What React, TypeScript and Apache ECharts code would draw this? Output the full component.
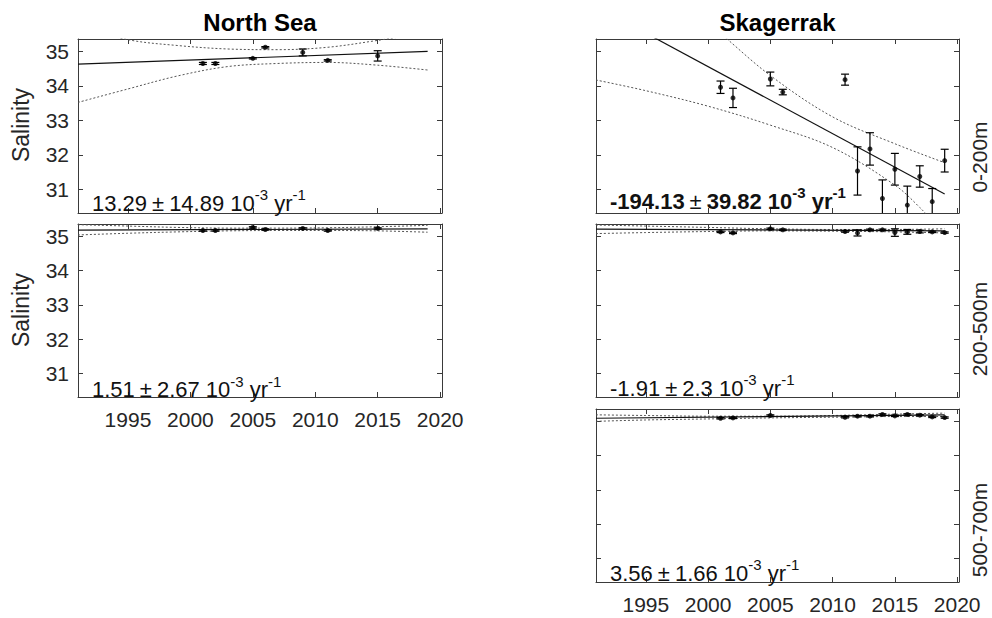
import React, { useEffect, useRef } from 'react';
import * as echarts from 'echarts';

// ---------- tick labels ----------
const xTicks = [1995, 2000, 2005, 2010, 2015, 2020];
const yTicks = [31, 32, 33, 34, 35];

// ---------- North Sea 0-200 m ----------
const ns0Years = [2001, 2002, 2005, 2006, 2009, 2011, 2015];
const ns0Sal = [34.65, 34.65, 34.8, 35.12, 34.97, 34.74, 34.87];
const ns0Err = [0.03, 0.03, 0.02, 0.02, 0.1, 0.02, 0.15];
const ns0FitYears = [1991, 2019];
const ns0Fit = [34.63, 35.0];
const ns0UpYears = [1991, 1995, 1999, 2003, 2007, 2011, 2015, 2019];
const ns0Up = [35.74, 35.34, 35.17, 35.07, 35.05, 35.12, 35.32, 35.55];
const ns0LoYears = [1991, 1995, 1999, 2003, 2007, 2011, 2015, 2019];
const ns0Lo = [33.52, 33.91, 34.29, 34.56, 34.65, 34.68, 34.6, 34.46];

// ---------- North Sea 200-500 m ----------
const ns1Years = [2001, 2002, 2005, 2006, 2009, 2011, 2015];
const ns1Sal = [35.17, 35.17, 35.26, 35.2, 35.23, 35.17, 35.23];
const ns1Err = [0.02, 0.02, 0.02, 0.02, 0.02, 0.02, 0.02];
const ns1FitYears = [1991, 2019];
const ns1Fit = [35.18, 35.22];
const ns1UpYears = [1991, 1995, 1999, 2003, 2007, 2011, 2015, 2019];
const ns1Up = [35.34, 35.3, 35.26, 35.24, 35.24, 35.25, 35.28, 35.32];
const ns1LoYears = [1991, 1995, 1999, 2003, 2007, 2011, 2015, 2019];
const ns1Lo = [35.04, 35.09, 35.13, 35.16, 35.17, 35.17, 35.16, 35.12];

// ---------- Skagerrak 0-200 m ----------
const sk0Years = [2001, 2002, 2005, 2006, 2011, 2012, 2013, 2014, 2015, 2016, 2017, 2018, 2019];
const sk0Sal = [33.96, 33.65, 34.2, 33.82, 34.18, 31.53, 32.17, 30.73, 31.58, 30.54, 31.37, 30.64, 31.83];
const sk0Err = [0.18, 0.28, 0.2, 0.08, 0.16, 0.7, 0.47, 0.54, 0.46, 0.55, 0.31, 0.38, 0.33];
const sk0FitYears = [1991, 2019];
const sk0Fit = [36.31, 30.86];
const sk0UpYears = [1999, 2001, 2005, 2010, 2015, 2019];
const sk0Up = [36.1, 35.52, 34.3, 33.1, 32.32, 31.77];
const sk0LoYears = [1991, 1995, 2000, 2005, 2010, 2015, 2017, 2019];
const sk0Lo = [34.17, 33.86, 33.41, 32.86, 32.21, 31.12, 30.47, 29.7];

// ---------- Skagerrak 200-500 m ----------
const sk1Years = [2001, 2002, 2005, 2006, 2011, 2012, 2013, 2014, 2015, 2016, 2017, 2018, 2019];
const sk1Sal = [35.13, 35.1, 35.22, 35.19, 35.14, 35.1, 35.19, 35.19, 35.11, 35.13, 35.14, 35.13, 35.11];
const sk1Err = [0.02, 0.02, 0.02, 0.02, 0.02, 0.09, 0.02, 0.02, 0.11, 0.07, 0.04, 0.02, 0.02];
const sk1FitYears = [1991, 2019];
const sk1Fit = [35.21, 35.16];
const sk1UpYears = [1991, 1995, 2000, 2005, 2010, 2015, 2019];
const sk1Up = [35.33, 35.3, 35.26, 35.22, 35.2, 35.2, 35.22];
const sk1LoYears = [1991, 1995, 2000, 2005, 2010, 2015, 2019];
const sk1Lo = [35.08, 35.11, 35.14, 35.16, 35.15, 35.13, 35.1];

// ---------- Skagerrak 500-700 m ----------
const sk2Years = [2001, 2002, 2005, 2011, 2012, 2013, 2014, 2015, 2016, 2017, 2018, 2019];
const sk2Sal = [35.09, 35.1, 35.17, 35.12, 35.15, 35.15, 35.2, 35.16, 35.2, 35.18, 35.13, 35.11];
const sk2Err = [0.02, 0.02, 0.02, 0.02, 0.02, 0.02, 0.02, 0.02, 0.02, 0.02, 0.02, 0.02];
const sk2FitYears = [1991, 2019];
const sk2Fit = [35.09, 35.19];
const sk2UpYears = [1991, 1995, 2000, 2005, 2010, 2015, 2019];
const sk2Up = [35.19, 35.17, 35.15, 35.15, 35.17, 35.21, 35.24];
const sk2LoYears = [1991, 1995, 2000, 2005, 2010, 2015, 2019];
const sk2Lo = [35.0, 35.04, 35.07, 35.1, 35.12, 35.14, 35.14];

// ---------- texts ----------
const titles = ['North Sea', 'Skagerrak'];
const yLabel = 'Salinity';
const depthLabels = ['0-200m', '200-500m', '500-700m'];
const trendValues = ['13.29', '1.51', '-194.13', '-1.91', '3.56'];
const trendErrors = ['14.89', '2.67', '39.82', '2.3', '1.66'];
const trendBold = [false, false, true, false, false];

// ---------- layout ----------
const FONT = '"Liberation Sans", Arial, Helvetica, sans-serif';
const AXIS_COLOR = '#3a3a3a';
const TEXT_COLOR = '#262626';
const X_MIN = 1991;
const X_MAX = 2020.15;
const Y_MIN = 30.31;
const Y_MAX = 35.36;

const gridBoxes = [
  { left: 78, top: 39, width: 364, height: 174 },
  { left: 78, top: 224, width: 364, height: 173 },
  { left: 596, top: 39, width: 363, height: 174 },
  { left: 596, top: 224, width: 363, height: 173 },
  { left: 596, top: 409, width: 363, height: 173 },
];
const showXLabels = [false, true, false, false, true];
const showYLabels = [true, true, false, false, false];
const annotationPos = [
  { x: 92, y: 187 },
  { x: 92, y: 373.5 },
  { x: 610, y: 185 },
  { x: 610, y: 372 },
  { x: 610, y: 557 },
];

const zip = (xs: number[], ys: number[]) => xs.map((x, i) => [x, ys[i]]);

export default function App() {
  const ref = useRef<HTMLDivElement>(null);

  useEffect(() => {
    if (!ref.current) return;
    const chart = echarts.init(ref.current, undefined, { renderer: 'svg' });

    const panels = [
      { years: ns0Years, sal: ns0Sal, err: ns0Err, fitX: ns0FitYears, fit: ns0Fit, upX: ns0UpYears, up: ns0Up, loX: ns0LoYears, lo: ns0Lo },
      { years: ns1Years, sal: ns1Sal, err: ns1Err, fitX: ns1FitYears, fit: ns1Fit, upX: ns1UpYears, up: ns1Up, loX: ns1LoYears, lo: ns1Lo },
      { years: sk0Years, sal: sk0Sal, err: sk0Err, fitX: sk0FitYears, fit: sk0Fit, upX: sk0UpYears, up: sk0Up, loX: sk0LoYears, lo: sk0Lo },
      { years: sk1Years, sal: sk1Sal, err: sk1Err, fitX: sk1FitYears, fit: sk1Fit, upX: sk1UpYears, up: sk1Up, loX: sk1LoYears, lo: sk1Lo },
      { years: sk2Years, sal: sk2Sal, err: sk2Err, fitX: sk2FitYears, fit: sk2Fit, upX: sk2UpYears, up: sk2Up, loX: sk2LoYears, lo: sk2Lo },
    ];

    const xAxes: any[] = [];
    const yAxes: any[] = [];
    const series: any[] = [];

    panels.forEach((p, i) => {
      ['bottom', 'top'].forEach((pos) => {
        xAxes.push({
          type: 'value',
          gridIndex: i,
          position: pos,
          min: X_MIN,
          max: X_MAX,
          axisLine: { show: true, onZero: false, lineStyle: { color: AXIS_COLOR, width: 1 } },
          axisTick: { show: true, inside: true, length: 5, customValues: xTicks, lineStyle: { color: AXIS_COLOR } },
          axisLabel: {
            show: pos === 'bottom' && showXLabels[i],
            customValues: xTicks,
            formatter: (v: number) => String(Math.round(v)),
            fontSize: 21,
            fontFamily: FONT,
            color: TEXT_COLOR,
            margin: 12,
          },
          splitLine: { show: false },
        });
      });
      ['left', 'right'].forEach((pos) => {
        yAxes.push({
          type: 'value',
          gridIndex: i,
          position: pos,
          min: Y_MIN,
          max: Y_MAX,
          axisLine: { show: true, onZero: false, lineStyle: { color: AXIS_COLOR, width: 1 } },
          axisTick: { show: true, inside: true, length: 5, customValues: yTicks, lineStyle: { color: AXIS_COLOR } },
          axisLabel: {
            show: pos === 'left' && showYLabels[i],
            customValues: yTicks,
            formatter: (v: number) => String(Math.round(v)),
            fontSize: 21,
            fontFamily: FONT,
            color: TEXT_COLOR,
            margin: 9,
          },
          splitLine: { show: false },
        });
      });

      const xi = i * 2;
      const yi = i * 2;
      const bandStyle = { color: '#555', width: 1, type: [2, 2] };
      series.push({
        type: 'line', xAxisIndex: xi, yAxisIndex: yi, data: zip(p.upX, p.up),
        smooth: 0.35, showSymbol: false, silent: true, lineStyle: bandStyle, clip: true, z: 2,
      });
      series.push({
        type: 'line', xAxisIndex: xi, yAxisIndex: yi, data: zip(p.loX, p.lo),
        smooth: 0.35, showSymbol: false, silent: true, lineStyle: bandStyle, clip: true, z: 2,
      });
      series.push({
        type: 'line', xAxisIndex: xi, yAxisIndex: yi, data: zip(p.fitX, p.fit),
        showSymbol: false, silent: true, lineStyle: { color: '#111', width: 1.2 }, clip: true, z: 3,
      });
      series.push({
        type: 'custom', xAxisIndex: xi, yAxisIndex: yi, clip: true, z: 4, silent: true,
        data: p.years.map((y, k) => [y, p.sal[k], p.err[k]]),
        encode: { x: 0, y: 1 },
        renderItem: (params: any, api: any) => {
          const x = api.value(0);
          const y = api.value(1);
          const e = api.value(2);
          const top = api.coord([x, y + e]);
          const bot = api.coord([x, y - e]);
          const hw = 4;
          const style = { stroke: '#000', lineWidth: 1.2 };
          return {
            type: 'group',
            children: [
              { type: 'line', shape: { x1: top[0], y1: top[1], x2: bot[0], y2: bot[1] }, style },
              { type: 'line', shape: { x1: top[0] - hw, y1: top[1], x2: top[0] + hw, y2: top[1] }, style },
              { type: 'line', shape: { x1: bot[0] - hw, y1: bot[1], x2: bot[0] + hw, y2: bot[1] }, style },
            ],
          };
        },
      });
      series.push({
        type: 'scatter', xAxisIndex: xi, yAxisIndex: yi, data: zip(p.years, p.sal),
        symbol: 'circle', symbolSize: 5, itemStyle: { color: '#000' }, silent: true, z: 5,
      });
    });

    const graphics: any[] = [];
    // titles
    graphics.push({
      type: 'text', x: 260, y: 22,
      style: { text: titles[0], fontSize: 24, fontWeight: 'bold', fontFamily: FONT, fill: '#000', align: 'center', verticalAlign: 'middle' },
    });
    graphics.push({
      type: 'text', x: 777.5, y: 22,
      style: { text: titles[1], fontSize: 24, fontWeight: 'bold', fontFamily: FONT, fill: '#000', align: 'center', verticalAlign: 'middle' },
    });
    // y labels
    [125, 310].forEach((cy) => {
      graphics.push({
        type: 'text', x: 21, y: cy, rotation: Math.PI / 2,
        style: { text: yLabel, fontSize: 23, fontFamily: FONT, fill: TEXT_COLOR, align: 'center', verticalAlign: 'middle' },
      });
    });
    // depth labels
    [157, 329, 530].forEach((cy, k) => {
      graphics.push({
        type: 'text', x: 979, y: cy, rotation: Math.PI / 2,
        style: { text: depthLabels[k], fontSize: 21, fontFamily: FONT, fill: TEXT_COLOR, align: 'center', verticalAlign: 'middle' },
      });
    });
    // trend annotations
    trendValues.forEach((v, k) => {
      const fw = trendBold[k] ? 'bold' : 'normal';
      graphics.push({
        type: 'text', x: annotationPos[k].x, y: annotationPos[k].y, z: 100,
        style: {
          text: `{m|${v}}{pm|±}{m|${trendErrors[k]} 10}{sup|-3}{m| yr}{sup|-1}`,
          fontFamily: FONT,
          fontSize: 22,
          fontWeight: fw,
          fill: '#111',
          align: 'left',
          verticalAlign: 'top',
          rich: {
            m: { fontSize: 22, fontWeight: fw, fontFamily: FONT, lineHeight: 32, fill: '#111' },
            pm: { fontSize: 22, fontWeight: 'normal', fontFamily: FONT, lineHeight: 32, padding: [0, 5, 0, 5], fill: '#111' },
            sup: { fontSize: 15, fontWeight: fw, fontFamily: FONT, lineHeight: 15, verticalAlign: 'top', fill: '#111' },
          },
        },
      });
    });

    chart.setOption({
      animation: false,
      backgroundColor: '#ffffff',
      grid: gridBoxes.map((g) => ({ ...g, containLabel: false })),
      xAxis: xAxes,
      yAxis: yAxes,
      series,
      graphic: graphics,
    });

    return () => chart.dispose();
  }, []);

  return (
    <div
      ref={ref}
      style={{ position: 'fixed', left: 0, top: 0, width: 992, height: 618, background: '#fff' }}
    />
  );
}
